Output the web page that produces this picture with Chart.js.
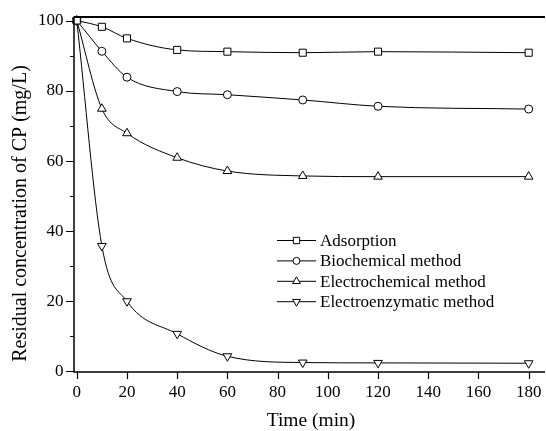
<!DOCTYPE html>
<html>
<head>
<meta charset="utf-8">
<script src="https://cdn.jsdelivr.net/npm/chart.js@4/dist/chart.umd.min.js"></script>
<style>
  html, body { margin: 0; padding: 0; background: #fff; }
  #wrap { width: 546px; height: 431px; }
</style>
</head>
<body>
<div id="wrap"><canvas id="c" width="546" height="431"></canvas></div>
<script>
// time points (min)
const times = [0, 10, 20, 40, 60, 90, 120, 180];

// residual CP concentration (mg/L)
const adsorption = [100, 98.2, 94.9, 91.6, 91.1, 90.8, 91.1, 90.8];
const biochemical = [100, 91.2, 83.8, 79.7, 78.8, 77.3, 75.5, 74.7];
const electrochemical = [100, 74.8, 67.8, 60.8, 57.0, 55.6, 55.4, 55.4];
const electroenzymatic = [100, 35.6, 19.8, 10.5, 4.1, 2.3, 2.2, 2.1];

const seriesNames = ['Adsorption', 'Biochemical method', 'Electrochemical method', 'Electroenzymatic method'];

const xTicks = [0, 20, 40, 60, 80, 100, 120, 140, 160, 180];
const yTicks = [0, 20, 40, 60, 80, 100];
const yMinorTicks = [10, 30, 50, 70, 90];

const xTitle = 'Time (min)';
const yTitle = 'Residual concentration of CP (mg/L)';

const serif = '"Liberation Serif", "DejaVu Serif", serif';

function pts(ys) {
    return times.map((t, i) => ({ x: t, y: ys[i] }));
}

function makeSet(label, ys, style, radius, rotation) {
    return {
        label: label,
        data: pts(ys),
        borderColor: '#000',
        borderWidth: 1,
        backgroundColor: '#fff',
        pointStyle: style,
        pointRadius: radius,
        pointRotation: rotation,
        pointBorderWidth: 1,
        pointBackgroundColor: '#fff',
        pointBorderColor: '#000',
        cubicInterpolationMode: 'monotone',
        clip: false,
        fill: false
    };
}

const datasets = [
    makeSet(seriesNames[0], adsorption, 'rect', 5, 0),
    makeSet(seriesNames[1], biochemical, 'circle', 4, 0),
    makeSet(seriesNames[2], electrochemical, 'triangle', 5, 0),
    makeSet(seriesNames[3], electroenzymatic, 'triangle', 5, 180)
];

// axes, ticks, tick labels, top border, titles and legend drawn by hand
const framePlugin = {
    id: 'frame',
    afterDatasetsDraw(chart) {
        const ctx = chart.ctx;
        const a = chart.chartArea;
        const xs = chart.scales.x, ys = chart.scales.y;
        ctx.save();
        ctx.strokeStyle = '#000';
        ctx.lineWidth = 1.5;
        ctx.beginPath();
        ctx.moveTo(a.left, a.top);
        ctx.lineTo(a.left, a.bottom);
        ctx.lineTo(a.right, a.bottom);
        ctx.stroke();
        ctx.lineWidth = 2;
        ctx.beginPath();
        ctx.moveTo(a.left, a.top);
        ctx.lineTo(a.right, a.top);
        ctx.stroke();

        ctx.lineWidth = 1.2;
        ctx.beginPath();
        xTicks.forEach(v => {
            const px = Math.round(xs.getPixelForValue(v)) + 0.5;
            ctx.moveTo(px, a.bottom);
            ctx.lineTo(px, a.bottom + 7);
        });
        yTicks.forEach(v => {
            const py = Math.round(ys.getPixelForValue(v)) + 0.5;
            ctx.moveTo(a.left, py);
            ctx.lineTo(a.left - 8, py);
        });
        yMinorTicks.forEach(v => {
            const py = Math.round(ys.getPixelForValue(v)) + 0.5;
            ctx.moveTo(a.left, py);
            ctx.lineTo(a.left - 4, py);
        });
        ctx.stroke();

        // tick labels
        ctx.fillStyle = '#000';
        ctx.font = '17px ' + serif;
        ctx.textBaseline = 'middle';
        ctx.textAlign = 'center';
        xTicks.forEach(v => {
            ctx.fillText(String(v), xs.getPixelForValue(v), a.bottom + 21);
        });
        ctx.textAlign = 'right';
        yTicks.forEach(v => {
            ctx.fillText(String(v), a.left - 10.5, ys.getPixelForValue(v) + 0.5);
        });

        // axis titles
        ctx.textAlign = 'center';
        ctx.font = '19.5px ' + serif;
        ctx.fillText(xTitle, 311, 421);
        ctx.save();
        ctx.translate(21, 213.5);
        ctx.rotate(-Math.PI / 2);
        ctx.font = '20px ' + serif;
        ctx.fillText(yTitle, 0, 0);
        ctx.restore();

        // legend
        const lx = a.left + 203, ly = a.top + 223.5, gap = 20.4;
        ctx.font = '17px ' + serif;
        ctx.textAlign = 'left';
        chart.data.datasets.forEach((ds, i) => {
            const y = ly + i * gap;
            ctx.strokeStyle = '#000';
            ctx.lineWidth = 1;
            ctx.beginPath();
            ctx.moveTo(lx, y);
            ctx.lineTo(lx + 39, y);
            ctx.stroke();
            ctx.fillStyle = '#fff';
            Chart.helpers.drawPoint(ctx, {
                pointStyle: ds.pointStyle,
                rotation: ds.pointRotation,
                radius: ds.pointStyle === 'circle' ? 3.5 : 4.5,
                borderWidth: 1
            }, lx + 19.5, y);
            ctx.fillStyle = '#000';
            ctx.fillText(ds.label, lx + 43, y + 1);
        });
        ctx.restore();
    }
};

new Chart(document.getElementById('c'), {
    type: 'line',
    data: { datasets: datasets },
    options: {
        responsive: false,
        animation: false,
        layout: { autoPadding: false, padding: { top: 17, right: 1, left: 0, bottom: 0 } },
        plugins: {
            legend: { display: false },
            tooltip: { enabled: false }
        },
        scales: {
            x: {
                type: 'linear',
                min: -1.1,
                max: 186.5,
                grid: { display: false, drawTicks: false },
                border: { display: false },
                afterBuildTicks(s) { s.ticks = xTicks.map(v => ({ value: v })); },
                afterFit(s) { s.height = 59; },
                ticks: { display: false }
            },
            y: {
                type: 'linear',
                min: -0.4,
                max: 101,
                grid: { display: false, drawTicks: false },
                border: { display: false },
                afterBuildTicks(s) { s.ticks = yTicks.map(v => ({ value: v })); },
                afterFit(s) { s.width = 74; },
                ticks: { display: false }
            }
        }
    },
    plugins: [framePlugin]
});
</script>
</body>
</html>
